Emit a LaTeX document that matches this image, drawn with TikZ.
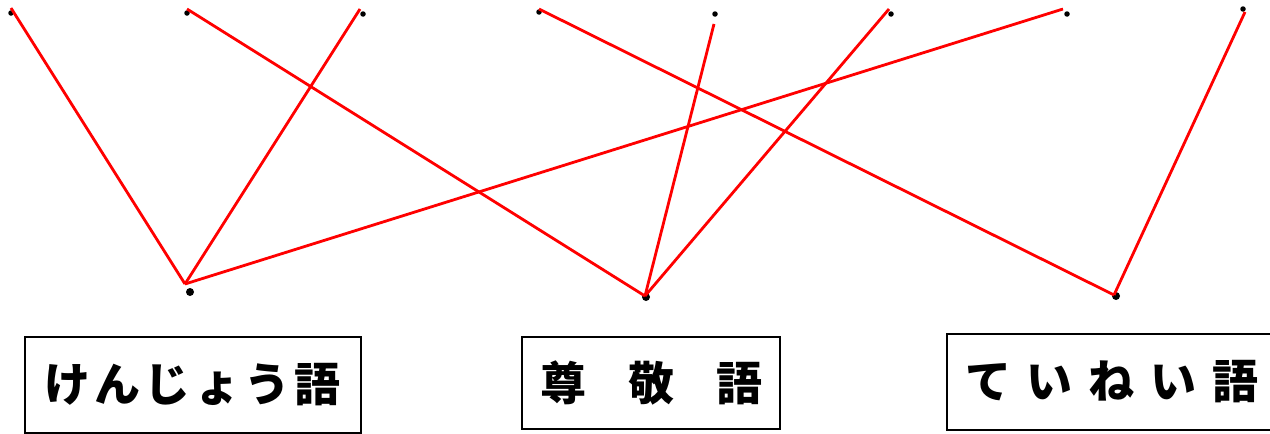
\documentclass[tikz,border=0pt]{standalone}
\usepackage{fontspec}
\usepackage{tikz}
\newfontfamily\jpfont{Noto Sans CJK JP}
\tikzset{
    link/.style={red,line width=2.8pt},
    dot/.style={circle,fill,inner sep=0pt,minimum size=5.5pt},
    bigdot/.style={circle,fill,inner sep=0pt,minimum size=8pt},
    wordbox/.style={draw,line width=1.8pt,inner sep=0pt,
        font=\jpfont\bfseries\fontsize{46}{46}\selectfont}
}

\begin{document}
\begin{tikzpicture}[x=1pt,y=-1pt]
    \useasboundingbox (0,0) rectangle (1270,434);
    % dots on top
    \node[dot] (t1) at (11,13) {};
    \node[dot] (t2) at (187,13) {};
    \node[dot] (t3) at (363,14) {};
    \node[dot] (t4) at (539,12) {};
    \node[dot] (t5) at (715,14) {};
    \node[dot] (t6) at (891,14) {};
    \node[dot] (t7) at (1067,14) {};
    \node[dot] (t8) at (1243,9) {};
    % dots below
    \node[bigdot] (b1) at (190,292) {};
    \node[bigdot] (b2) at (646,297) {};
    \node[bigdot] (b3) at (1116,296) {};
    % line ends
    \coordinate (a1) at (11,8);
    \coordinate (a2) at (187,9);
    \coordinate (a3) at (360,9);
    \coordinate (a4) at (539,9);
    \coordinate (a5) at (714,24);
    \coordinate (a6) at (889,9);
    \coordinate (a7) at (1063,9);
    \coordinate (a8) at (1245,12);
    \coordinate (c1) at (185,284);
    \coordinate (c2) at (645,296);
    \coordinate (c3) at (1114,295);
    \draw[link] (a1) -- (c1);
    \draw[link] (a3) -- (c1);
    \draw[link] (a7) -- (c1);
    \draw[link] (a2) -- (c2);
    \draw[link] (a5) -- (c2);
    \draw[link] (a6) -- (c2);
    \draw[link] (a4) -- (c3);
    \draw[link] (a8) -- (c3);
    % word boxes
    \node[wordbox,minimum width=336pt,minimum height=96pt] (kenjo) at (193,385)
        {け\hspace{4pt}ん\hspace{4pt}じ\hspace{4pt}ょ\hspace{4pt}う\hspace{4pt}語};
    \node[wordbox,minimum width=258pt,minimum height=92pt] (sonkei) at (651,383)
        {尊\hspace{42pt}敬\hspace{42pt}語};
    \node[wordbox,minimum width=330pt,minimum height=96pt] (teinei) at (1112,382)
        {て\hspace{16pt}い\hspace{16pt}ね\hspace{16pt}い\hspace{16pt}語};
\end{tikzpicture}
\end{document}
